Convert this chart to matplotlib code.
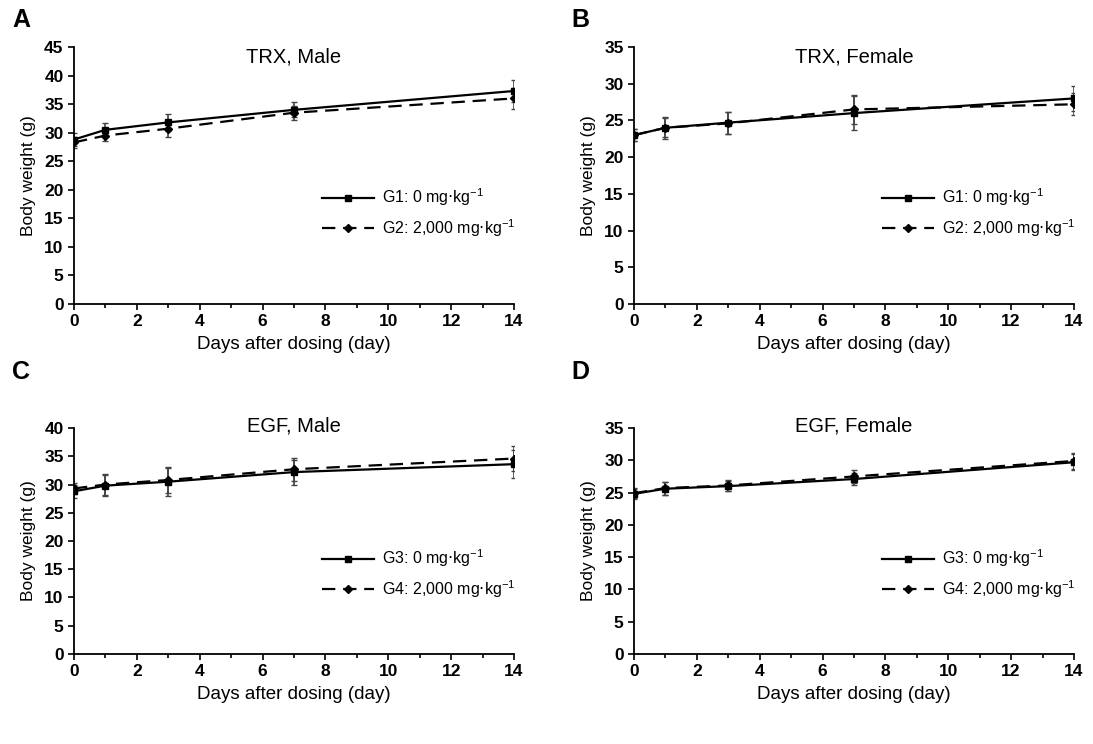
import matplotlib
matplotlib.use('Agg')
import matplotlib.pyplot as plt
from matplotlib.ticker import MultipleLocator
from matplotlib.lines import Line2D
from matplotlib.font_manager import FontProperties

days = [0, 1, 3, 7, 14]

# TRX male
a_g1 = [28.8, 30.5, 31.8, 34.0, 37.3]
a_g1_err = [1.2, 1.2, 1.5, 1.3, 2.0]
a_g2 = [28.3, 29.5, 30.7, 33.5, 36.0]
a_g2_err = [1.0, 1.0, 1.5, 1.2, 1.8]
# TRX female
b_g1 = [23.0, 24.0, 24.7, 26.0, 28.0]
b_g1_err = [0.8, 1.5, 1.5, 2.3, 1.7]
b_g2 = [23.0, 24.0, 24.6, 26.5, 27.2]
b_g2_err = [0.8, 1.3, 1.5, 2.0, 1.5]
# EGF male
c_g3 = [28.8, 29.8, 30.5, 32.2, 33.6]
c_g3_err = [1.2, 1.8, 2.5, 2.2, 2.5]
c_g4 = [29.3, 30.0, 30.8, 32.7, 34.6]
c_g4_err = [1.0, 1.8, 2.3, 2.0, 2.2]
# EGF female
d_g3 = [24.8, 25.6, 26.0, 27.1, 29.7]
d_g3_err = [0.8, 1.0, 0.8, 1.0, 1.2]
d_g4 = [24.9, 25.7, 26.1, 27.5, 29.9]
d_g4_err = [0.8, 1.0, 0.8, 1.0, 1.2]

panels = [
    ('A', 'TRX, Male', a_g1, a_g1_err, a_g2, a_g2_err, ('G1', 'G2'), 45),
    ('B', 'TRX, Female', b_g1, b_g1_err, b_g2, b_g2_err, ('G1', 'G2'), 35),
    ('C', 'EGF, Male', c_g3, c_g3_err, c_g4, c_g4_err, ('G3', 'G4'), 40),
    ('D', 'EGF, Female', d_g3, d_g3_err, d_g4, d_g4_err, ('G3', 'G4'), 35),
]

positions = [
    [0.0677, 0.5914, 0.4026, 0.3454],
    [0.5800, 0.5914, 0.4026, 0.3454],
    [0.0677, 0.1210, 0.4026, 0.3037],
    [0.5800, 0.1210, 0.4026, 0.3037],
]
letter_pos = [(0.011, 0.973), (0.523, 0.973), (0.011, 0.500), (0.523, 0.500)]
title_y = [0.96, 0.96, 1.01, 1.01]

SANS = ['Liberation Sans', 'DejaVu Sans']
tick_fp = FontProperties(family=['Liberation Sans Narrow'] + SANS, weight='bold', size=12.5)
DASH = (0, (6, 3.5))
unit = r' mg$\cdot$kg$^{\mathregular{-1}}$'

fig = plt.figure(figsize=(10.93, 7.44), dpi=100)

for i, (letter, title, y1, e1, y2, e2, names, ymax) in enumerate(panels):
    ax = fig.add_axes(positions[i])
    ax.errorbar(days, y1, yerr=e1, color='black', ecolor='#444444', lw=1.6,
                elinewidth=1.2, capsize=2.5, marker='s', ms=5)
    ax.errorbar(days, y2, yerr=e2, color='black', ecolor='#444444', lw=1.6,
                ls=DASH, elinewidth=1.2, capsize=2.5, marker='D', ms=4.5)
    ax.set_xlim(0, 14)
    ax.set_ylim(0, ymax)
    ax.xaxis.set_major_locator(MultipleLocator(2))
    ax.xaxis.set_minor_locator(MultipleLocator(1))
    ax.yaxis.set_major_locator(MultipleLocator(5))
    ax.spines['top'].set_visible(False)
    ax.spines['right'].set_visible(False)
    ax.spines['left'].set_linewidth(1.3)
    ax.spines['bottom'].set_linewidth(1.3)
    ax.tick_params(which='both', direction='out', width=1.2)
    ax.tick_params(which='major', length=4)
    ax.tick_params(which='minor', length=3)
    for lab in ax.get_xticklabels() + ax.get_yticklabels():
        lab.set_fontproperties(tick_fp)
    ax.set_xlabel('Days after dosing (day)', family=SANS, size=13.5, labelpad=5)
    ax.set_ylabel('Body weight (g)', family=SANS, size=12.5, labelpad=6)
    ax.text(0.5, title_y[i], title, transform=ax.transAxes, ha='center',
            va='center', family=SANS, size=14.5)

    handles = [
        Line2D([], [], color='black', lw=1.6, marker='s', ms=5),
        Line2D([], [], color='black', lw=1.6, ls=DASH, marker='D', ms=4.5),
    ]
    labels = [names[0] + ': 0' + unit, names[1] + ': 2,000' + unit]
    ax.legend(handles, labels, loc='center left', bbox_to_anchor=(0.53, 0.355),
              frameon=False, handlelength=3.3, handletextpad=0.5,
              labelspacing=0.55,
              prop=FontProperties(family=SANS, size=11.5))

    fig.text(letter_pos[i][0], letter_pos[i][1], letter, ha='left', va='center',
             fontsize=18, fontweight='bold', family=SANS)

fig.savefig('out.png', dpi=100)
